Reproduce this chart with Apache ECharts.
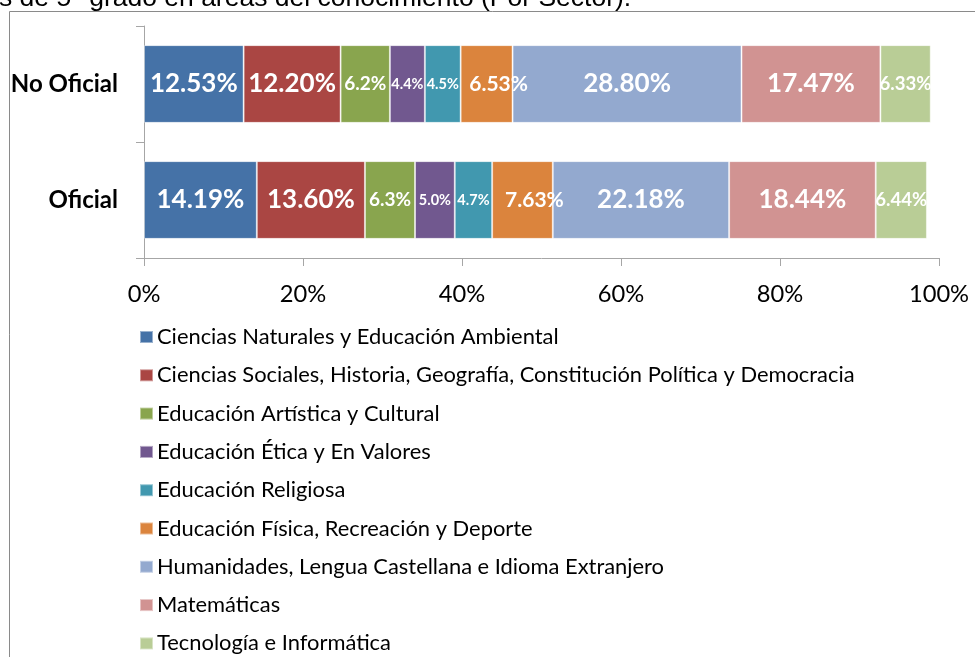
<!DOCTYPE html>
<html>
<head>
<meta charset="utf-8">
<script src="https://cdn.jsdelivr.net/npm/echarts@6/dist/echarts.min.js"></script>
<style>html,body{margin:0;padding:0;background:#fff;}#c{width:975px;height:657px;}</style>
</head>
<body>
<div id="c"></div>
<script>
const titleText = 's de 5° grado en áreas del conocimiento (Por Sector).';
const categories = ['No Oficial', 'Oficial'];
const seriesNames = [
  'Ciencias Naturales y Educación Ambiental',
  'Ciencias Sociales, Historia, Geografía, Constitución Política y Democracia',
  'Educación Artística y Cultural',
  'Educación Ética y En Valores',
  'Educación Religiosa',
  'Educación Física, Recreación y Deporte',
  'Humanidades, Lengua Castellana e Idioma Extranjero',
  'Matemáticas',
  'Tecnología e Informática'
];
// values per series: [No Oficial, Oficial] (percent)
const cienciasNaturales = [12.53, 14.19];
const cienciasSociales = [12.20, 13.60];
const artistica = [6.2, 6.3];
const etica = [4.4, 5.0];
const religiosa = [4.5, 4.7];
const fisica = [6.53, 7.63];
const humanidades = [28.80, 22.18];
const matematicas = [17.47, 18.44];
const tecnologia = [6.33, 6.44];
const labelDecimals = [2, 2, 1, 1, 1, 2, 2, 2, 2];
const xTicks = [0, 20, 40, 60, 80, 100];

const seriesValues = [cienciasNaturales, cienciasSociales, artistica, etica, religiosa, fisica, humanidades, matematicas, tecnologia];
const colors = ['#4572A7', '#AA4643', '#89A54E', '#71588F', '#4198AF', '#DB843D', '#93A9CF', '#D19392', '#B9CD96'];
const labelSizes = [26, 26, 19, 14.5, 14.5, 21, 26, 26, 18.6];
const labelOffsets = [0, 0, 0, 0, 0, 12, 0, 0, 0];

const chart = echarts.init(document.getElementById('c'), null, {renderer: 'canvas'});
const series = seriesNames.map((name, i) => ({
  name: name,
  type: 'bar',
  stack: 'total',
  barCategoryGap: '33%',
  data: seriesValues[i],
  itemStyle: {color: colors[i], borderColor: 'rgba(255,255,255,0.45)', borderWidth: 1},
  label: {
    show: true,
    position: 'inside',
    offset: [labelOffsets[i], 0],
    color: '#fff',
    fontFamily: 'Lato',
    fontWeight: 'bold',
    fontSize: labelSizes[i],
    formatter: p => p.value.toFixed(labelDecimals[i]) + '%'
  },
  emphasis: {disabled: true}
}));

chart.setOption({
  animation: false,
  color: colors,
  graphic: [
    {type: 'rect', shape: {x: 9.5, y: 11.5, width: 1000, height: 700}, style: {fill: 'none', stroke: '#8a8a8a', lineWidth: 1}, silent: true},
    {type: 'text', x: -1, y: 12.5, style: {text: titleText, font: '26.5px "Liberation Sans"', fill: '#000', verticalAlign: 'bottom'}, silent: true}
  ],
  grid: {left: 144, right: 36, top: 26, bottom: 399, containLabel: false},
  xAxis: {
    type: 'value',
    min: xTicks[0],
    max: xTicks[xTicks.length - 1],
    interval: xTicks[1] - xTicks[0],
    axisLine: {show: true, lineStyle: {color: '#a6a6a6', width: 1}},
    axisTick: {show: true, length: 8, lineStyle: {color: '#a6a6a6'}},
    splitLine: {show: false},
    axisLabel: {color: '#000', fontFamily: 'Lato', fontSize: 23.7, margin: 24, formatter: v => v + '%'}
  },
  yAxis: {
    type: 'category',
    data: categories,
    inverse: true,
    axisLine: {show: true, lineStyle: {color: '#a6a6a6', width: 1}},
    axisTick: {show: true, length: 8, lineStyle: {color: '#a6a6a6'}},
    axisLabel: {color: '#000', fontFamily: 'Lato', fontWeight: 'bold', fontSize: 24, margin: 26}
  },
  legend: {
    orient: 'vertical',
    left: 139,
    top: 325,
    height: 400,
    padding: 0,
    itemWidth: 13,
    itemHeight: 12,
    itemGap: 14.3,
    icon: 'rect',
    textStyle: {color: '#000', fontFamily: 'Lato', fontSize: 21.9, lineHeight: 24, padding: [0, 0, 0, -1]},
    data: seriesNames,
    selectedMode: false
  },
  series: series
});
</script>
</body>
</html>
